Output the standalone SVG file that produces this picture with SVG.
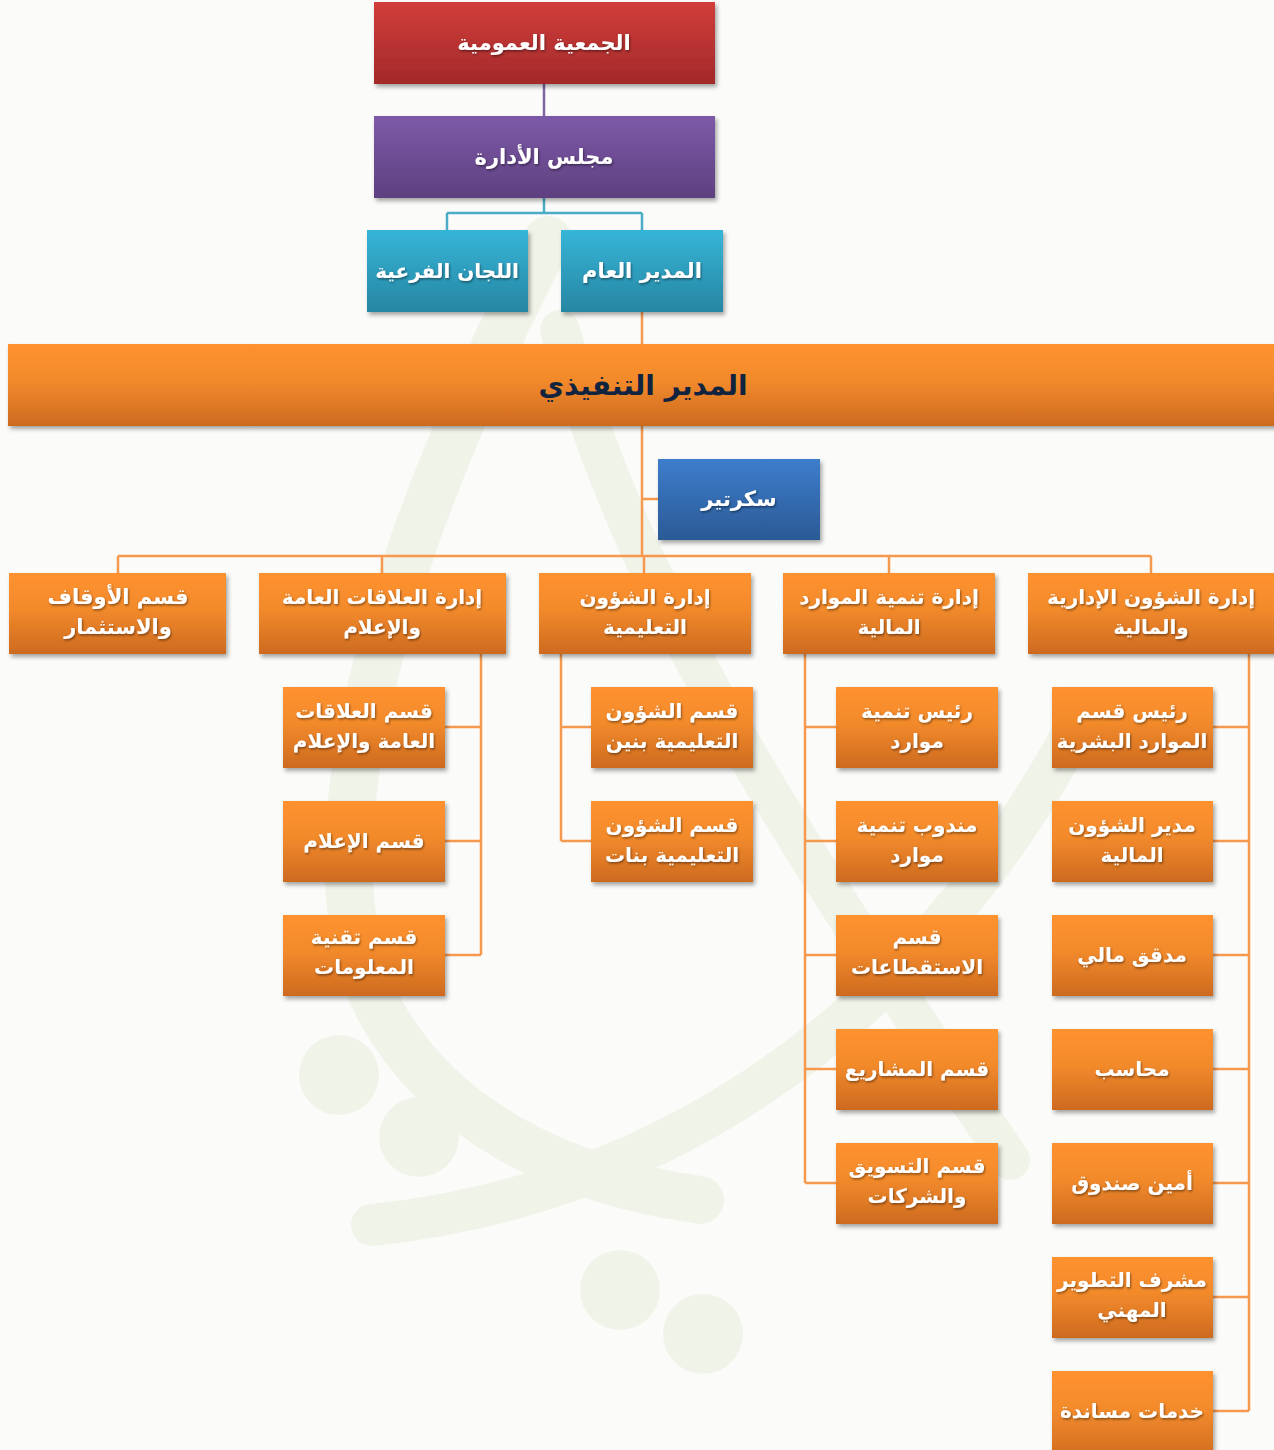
<svg xmlns="http://www.w3.org/2000/svg" width="1274" height="1450" viewBox="0 0 1274 1450">
  <defs>
    <linearGradient id="gOrange" x1="0" y1="0" x2="0" y2="1">
      <stop offset="0" stop-color="#ff922e"/>
      <stop offset="0.45" stop-color="#f28a2c"/>
      <stop offset="1" stop-color="#cd6a1f"/>
    </linearGradient>
    <linearGradient id="gRed" x1="0" y1="0" x2="0" y2="1">
      <stop offset="0" stop-color="#d13d3a"/>
      <stop offset="1" stop-color="#a3292a"/>
    </linearGradient>
    <linearGradient id="gPurple" x1="0" y1="0" x2="0" y2="1">
      <stop offset="0" stop-color="#7d5aa8"/>
      <stop offset="1" stop-color="#5e407f"/>
    </linearGradient>
    <linearGradient id="gCyan" x1="0" y1="0" x2="0" y2="1">
      <stop offset="0" stop-color="#36b5d8"/>
      <stop offset="1" stop-color="#2786a2"/>
    </linearGradient>
    <linearGradient id="gBlue" x1="0" y1="0" x2="0" y2="1">
      <stop offset="0" stop-color="#3d7dcc"/>
      <stop offset="1" stop-color="#2b5a95"/>
    </linearGradient>
    <filter id="shadow" x="-10%" y="-20%" width="120%" height="150%">
      <feDropShadow dx="2" dy="3" stdDeviation="2.2" flood-color="#000" flood-opacity="0.35"/>
    </filter>
    <filter id="tshadow" x="-10%" y="-30%" width="120%" height="160%">
      <feDropShadow dx="1" dy="1.5" stdDeviation="0.8" flood-color="#000" flood-opacity="0.45"/>
    </filter>
    <style>
      .box { filter: url(#shadow); }
      .o { fill: url(#gOrange); }
      .t { font-family: "DejaVu Sans", "Noto Sans", sans-serif; font-weight: bold; font-size: 20px; fill: #ffffff; text-anchor: middle; filter: url(#tshadow); }
      .big { font-size: 21px; }
      .exec { font-family: "DejaVu Sans", "Noto Sans", sans-serif; font-weight: bold; font-size: 28px; fill: #10233f; text-anchor: middle; }
      .c { fill: none; stroke: #f5994f; stroke-width: 2.5; }
      .wm { fill: none; stroke: #dfe8cc; stroke-linecap: round; }
    </style>
  </defs>

  <!-- background -->
  <rect x="0" y="0" width="1274" height="1450" fill="#fbfbfa"/>
  <g id="watermark" opacity="0.38">
    <path class="wm" d="M548 240 C 380 560, 300 860, 380 1010 C 440 1120, 560 1180, 700 1200" stroke-width="48"/>
    <path class="wm" d="M560 330 C 640 620, 820 880, 1010 1160" stroke-width="40"/>
    <path class="wm" d="M372 1225 C 620 1200, 900 1060, 1080 720" stroke-width="42"/>
    <g fill="#dfe8cc">
      <circle cx="339" cy="1075" r="40"/>
      <circle cx="419" cy="1137" r="40"/>
      <circle cx="620" cy="1290" r="40"/>
      <circle cx="703" cy="1334" r="40"/>
    </g>
  </g>

  <!-- connectors -->
  <g id="connectors">
    <path d="M544 84 V116" fill="none" stroke="#8064a2" stroke-width="2.5"/>
    <path d="M544 198 V213 M447 213 H642 M447 213 V230 M642 213 V230" fill="none" stroke="#4bacc6" stroke-width="2.5"/>
    <path class="c" d="M642 312 V344 M642 426 V556 M642 499 H658 M118 556 H1151 M118 556 V573 M382 556 V573 M644 556 V573 M889 556 V573 M1151 556 V573"/>
    <path class="c" d="M481 654 V955 M445 727 H481 M445 841 H481 M445 955 H481"/>
    <path class="c" d="M561 654 V841 M561 727 H591 M561 841 H591"/>
    <path class="c" d="M805 654 V1183 M805 727 H836 M805 841 H836 M805 955 H836 M805 1069 H836 M805 1183 H836"/>
    <path class="c" d="M1249 654 V1411 M1213 727 H1249 M1213 841 H1249 M1213 955 H1249 M1213 1069 H1249 M1213 1183 H1249 M1213 1297 H1249 M1213 1411 H1249"/>
  </g>

  <!-- top nodes -->
  <g id="n-general-assembly">
    <rect class="box" x="374" y="2" width="341" height="82" fill="url(#gRed)"/>
    <text class="t big" x="544" y="50">الجمعية العمومية</text>
  </g>
  <g id="n-board">
    <rect class="box" x="374" y="116" width="341" height="82" fill="url(#gPurple)"/>
    <text class="t big" x="544" y="164">مجلس الأدارة</text>
  </g>
  <g id="n-committees">
    <rect class="box" x="367" y="230" width="161" height="82" fill="url(#gCyan)"/>
    <text class="t" x="447" y="278">اللجان الفرعية</text>
  </g>
  <g id="n-general-manager">
    <rect class="box" x="561" y="230" width="162" height="82" fill="url(#gCyan)"/>
    <text class="t big" x="642" y="278">المدير العام</text>
  </g>
  <g id="n-executive">
    <rect class="box" x="8" y="344" width="1280" height="82" fill="url(#gOrange)"/>
    <text class="exec" x="643" y="395">المدير التنفيذي</text>
  </g>
  <g id="n-secretary">
    <rect class="box" x="658" y="459" width="162" height="81" fill="url(#gBlue)"/>
    <text class="t big" x="739" y="506">سكرتير</text>
  </g>

  <!-- departments -->
  <g id="d-awqaf">
    <rect class="box o" x="9" y="573" width="217" height="81"/>
    <text class="t big" x="118" y="604">قسم الأوقاف</text>
    <text class="t big" x="118" y="634">والاستثمار</text>
  </g>
  <g id="d-pr">
    <rect class="box o" x="259" y="573" width="247" height="81"/>
    <text class="t" x="382" y="604">إدارة العلاقات العامة</text>
    <text class="t" x="382" y="634">والإعلام</text>
  </g>
  <g id="d-edu">
    <rect class="box o" x="539" y="573" width="212" height="81"/>
    <text class="t" x="645" y="604">إدارة الشؤون</text>
    <text class="t" x="645" y="634">التعليمية</text>
  </g>
  <g id="d-fin-dev">
    <rect class="box o" x="783" y="573" width="212" height="81"/>
    <text class="t" x="889" y="604">إدارة تنمية الموارد</text>
    <text class="t" x="889" y="634">المالية</text>
  </g>
  <g id="d-admin">
    <rect class="box o" x="1028" y="573" width="260" height="81"/>
    <text class="t" x="1151" y="604">إدارة الشؤون الإدارية</text>
    <text class="t" x="1151" y="634">والمالية</text>
  </g>

  <!-- column A -->
  <g id="a1">
    <rect class="box o" x="283" y="687" width="162" height="81"/>
    <text class="t" x="364" y="718">قسم العلاقات</text>
    <text class="t" x="364" y="748">العامة والإعلام</text>
  </g>
  <g id="a2">
    <rect class="box o" x="283" y="801" width="162" height="81"/>
    <text class="t" x="364" y="848">قسم الإعلام</text>
  </g>
  <g id="a3">
    <rect class="box o" x="283" y="915" width="162" height="81"/>
    <text class="t" x="364" y="944">قسم تقنية</text>
    <text class="t" x="364" y="974">المعلومات</text>
  </g>

  <!-- column B -->
  <g id="b1">
    <rect class="box o" x="591" y="687" width="162" height="81"/>
    <text class="t" x="672" y="718">قسم الشؤون</text>
    <text class="t" x="672" y="748">التعليمية بنين</text>
  </g>
  <g id="b2">
    <rect class="box o" x="591" y="801" width="162" height="81"/>
    <text class="t" x="672" y="832">قسم الشؤون</text>
    <text class="t" x="672" y="862">التعليمية بنات</text>
  </g>

  <!-- column C -->
  <g id="c1">
    <rect class="box o" x="836" y="687" width="162" height="81"/>
    <text class="t" x="917" y="718">رئيس تنمية</text>
    <text class="t" x="917" y="748">موارد</text>
  </g>
  <g id="c2">
    <rect class="box o" x="836" y="801" width="162" height="81"/>
    <text class="t" x="917" y="832">مندوب تنمية</text>
    <text class="t" x="917" y="862">موارد</text>
  </g>
  <g id="c3">
    <rect class="box o" x="836" y="915" width="162" height="81"/>
    <text class="t" x="917" y="944">قسم</text>
    <text class="t" x="917" y="974">الاستقطاعات</text>
  </g>
  <g id="c4">
    <rect class="box o" x="836" y="1029" width="162" height="81"/>
    <text class="t" x="917" y="1076">قسم المشاريع</text>
  </g>
  <g id="c5">
    <rect class="box o" x="836" y="1143" width="162" height="81"/>
    <text class="t" x="917" y="1173">قسم التسويق</text>
    <text class="t" x="917" y="1203">والشركات</text>
  </g>

  <!-- column D -->
  <g id="e1">
    <rect class="box o" x="1052" y="687" width="161" height="81"/>
    <text class="t" x="1132" y="718">رئيس قسم</text>
    <text class="t" x="1132" y="748">الموارد البشرية</text>
  </g>
  <g id="e2">
    <rect class="box o" x="1052" y="801" width="161" height="81"/>
    <text class="t" x="1132" y="832">مدير الشؤون</text>
    <text class="t" x="1132" y="862">المالية</text>
  </g>
  <g id="e3">
    <rect class="box o" x="1052" y="915" width="161" height="81"/>
    <text class="t" x="1132" y="962">مدقق مالي</text>
  </g>
  <g id="e4">
    <rect class="box o" x="1052" y="1029" width="161" height="81"/>
    <text class="t" x="1132" y="1076">محاسب</text>
  </g>
  <g id="e5">
    <rect class="box o" x="1052" y="1143" width="161" height="81"/>
    <text class="t" x="1132" y="1190">أمين صندوق</text>
  </g>
  <g id="e6">
    <rect class="box o" x="1052" y="1257" width="161" height="81"/>
    <text class="t" x="1132" y="1287">مشرف التطوير</text>
    <text class="t" x="1132" y="1317">المهني</text>
  </g>
  <g id="e7">
    <rect class="box o" x="1052" y="1371" width="161" height="90"/>
    <text class="t" x="1132" y="1418">خدمات مساندة</text>
  </g>
</svg>
